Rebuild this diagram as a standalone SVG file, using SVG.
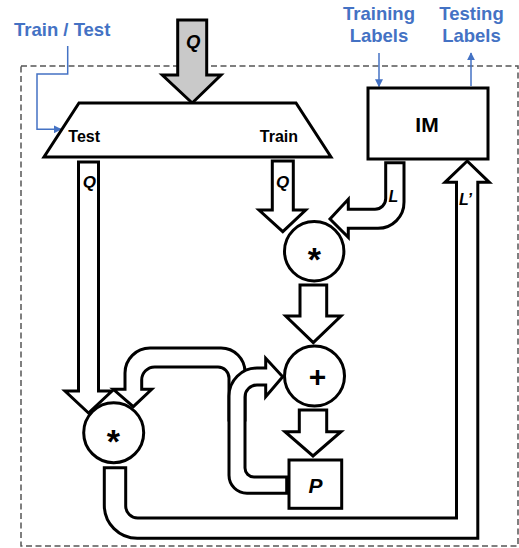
<svg xmlns="http://www.w3.org/2000/svg" width="519" height="548" viewBox="0 0 519 548">
<defs>
<marker id="ba" viewBox="0 0 10 10" refX="9" refY="5" markerWidth="8" markerHeight="8" markerUnits="userSpaceOnUse" orient="auto">
<path d="M0,0 L10,5 L0,10 Z" fill="#4472C4"/>
</marker>
</defs>
<style>
.lbl{font-family:"Liberation Sans",Arial,sans-serif;font-weight:bold;fill:#4472C4;font-size:18.5px;text-anchor:middle}
.blue{fill:none;stroke:#4472C4;stroke-width:1.5}
.sh{fill:#fff;stroke:#000;stroke-width:3;stroke-linejoin:miter;stroke-miterlimit:10}
.t{font-family:"Liberation Sans",Arial,sans-serif;font-weight:bold;fill:#000}
.it{font-family:"Liberation Sans",Arial,sans-serif;font-weight:bold;font-style:italic;fill:#000;font-size:16px;text-anchor:middle}
</style>
<rect x="21" y="66" width="497" height="480" fill="none" stroke="#555" stroke-width="1.5" stroke-dasharray="6,3.5"/>
<text class="lbl" x="14" y="36" style="text-anchor:start">Train / Test</text>
<text class="lbl" x="379" y="19.5">Training</text>
<text class="lbl" x="379" y="42">Labels</text>
<text class="lbl" x="471.5" y="19.5">Testing</text>
<text class="lbl" x="471.5" y="42">Labels</text>
<g id="connectors">
<path class="blue" d="M67.7,46 V74 H37 V129.3 H61" marker-end="url(#ba)"/>
<path class="blue" d="M379,53 V86.5" marker-end="url(#ba)"/>
<path class="blue" d="M471,86 V53" marker-end="url(#ba)"/>
<path class="sh" style="fill:#c9c9c9" d="M177.7,20 H206.7 V75 H221 L192.2,103 L162.3,75 H177.7 Z"/>
<text class="it" x="193.3" y="47.5" style="font-size:18.5px">Q</text>
<path class="sh" d="M78.5,162 H98.5 V391 H112 L88.5,413 L65,391 H78.5 Z"/>
<text class="it" x="89.3" y="187.5" style="font-size:17px">Q</text>
<path class="sh" d="M272.3,161 H293.3 V210 H305.7 L282.8,231.7 L259,210 H272.3 Z"/>
<text class="it" x="282.7" y="187.5" style="font-size:17px">Q</text>
<path class="sh" d="M385.7,162.7 H404 V202 A26,26 0 0 1 378,228.3 H348.3 V237.3 L330,219 L348.3,199.3 V209.3 H375 A10.7,10.7 0 0 0 385.7,198.6 Z"/>
<text class="it" x="393.5" y="201.5">L</text>
<path class="sh" d="M104.3,467.7 H125.7 V506 A12,12 0 0 0 137.7,518 H456.5 V182.3 H445 L467.2,161 L489.3,182.3 H477.8 V538.3 H137.3 A33,33 0 0 1 104.3,505.3 Z"/>
<text class="it" x="459" y="205" style="text-anchor:start">L’</text>
<path class="sh" d="M300,285 H326.7 V316 H341 L313.3,342.7 L285.7,316 H300 Z"/>
<path class="sh" d="M299.3,410 H326.7 V431.7 H341 L313,456 L285,431.7 H299.3 Z"/>
<path class="sh" d="M245,420 V372 A24,24 0 0 0 221,348 H150 A25,25 0 0 0 125,373 V389.3 H113.3 L133.3,406.7 L151.7,389.3 H141.7 V380 A13,13 0 0 1 154.7,367 H218 A11,11 0 0 1 229,378 V420 Z"/>
<path class="sh" d="M286.7,493.3 H247 A18,18 0 0 1 229,475.3 V396 A28,28 0 0 1 257,368 H265.7 V358.3 L282.7,376.7 L265.7,396.7 V385 H257 A12,12 0 0 0 245,397 V468 A9,9 0 0 0 254,477 H286.7 Z"/>
</g>
<g id="switch">
<polygon class="sh" points="79,103 296,103 331,157 44,157"/>
<text class="t" x="68.3" y="141.7" font-size="16">Test</text>
<text class="t" x="298" y="141.7" font-size="16" text-anchor="end">Train</text>
</g>
<g id="im">
<rect class="sh" x="368" y="88" width="120" height="71"/>
<text class="t" x="427" y="131.7" font-size="21" text-anchor="middle">IM</text>
</g>
<g id="mul-train">
<circle class="sh" cx="314.2" cy="251.3" r="29.7"/>
<text class="t" x="314.3" y="271" font-size="34" text-anchor="middle">*</text>
</g>
<g id="add">
<circle class="sh" cx="314.5" cy="376" r="30"/>
<text class="t" x="317.5" y="387" font-size="30" text-anchor="middle">+</text>
</g>
<g id="mul-test">
<circle class="sh" cx="113.7" cy="432.7" r="30"/>
<text class="t" x="113.3" y="452.8" font-size="34" text-anchor="middle">*</text>
</g>
<g id="p">
<rect class="sh" x="289" y="460" width="52.7" height="48.3"/>
<text class="it" x="315.5" y="492.7" style="font-size:21px">P</text>
</g>
</svg>
